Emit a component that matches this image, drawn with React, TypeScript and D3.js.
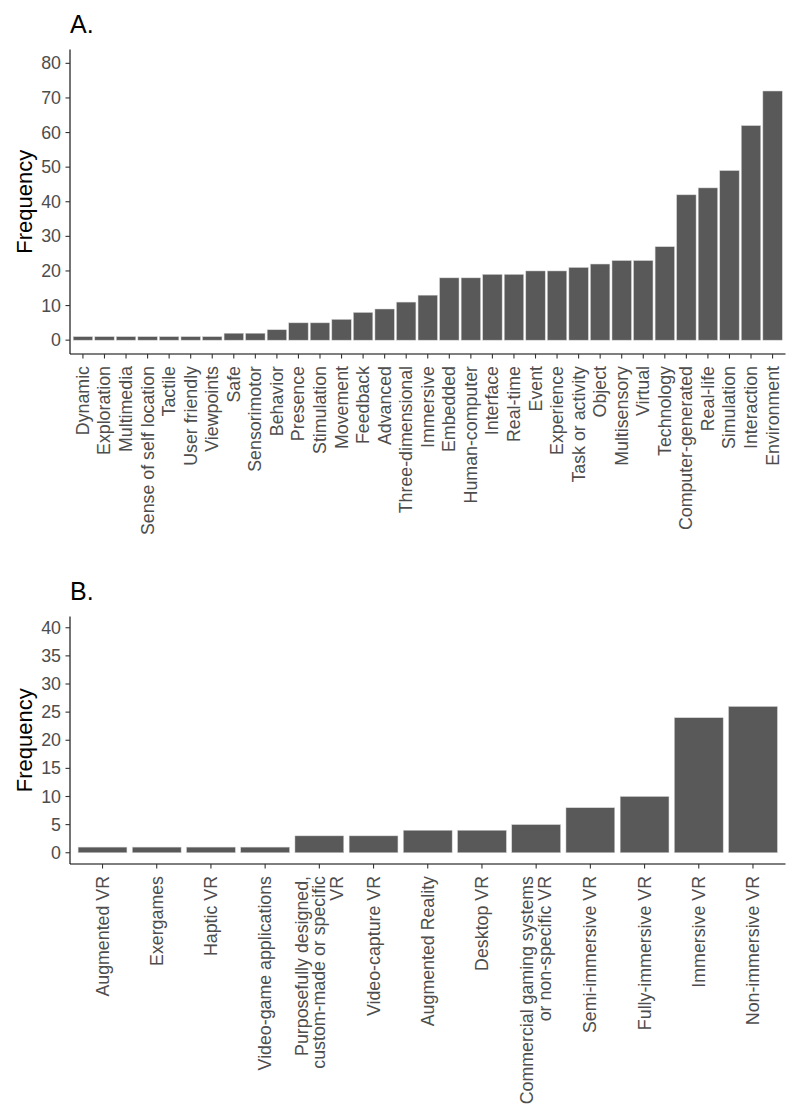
import React from "react";
import * as d3 from "d3";

const catsA = [
  "Dynamic", "Exploration", "Multimedia", "Sense of self location", "Tactile",
  "User friendly", "Viewpoints", "Safe", "Sensorimotor", "Behavior", "Presence",
  "Stimulation", "Movement", "Feedback", "Advanced", "Three-dimensional",
  "Immersive", "Embedded", "Human-computer", "Interface", "Real-time", "Event",
  "Experience", "Task or activity", "Object", "Multisensory", "Virtual",
  "Technology", "Computer-generated", "Real-life", "Simulation", "Interaction",
  "Environment",
];
const valsA = [1, 1, 1, 1, 1, 1, 1, 2, 2, 3, 5, 5, 6, 8, 9, 11, 13, 18, 18, 19, 19, 20, 20, 21, 22, 23, 23, 27, 42, 44, 49, 62, 72];
const ticksA = [0, 10, 20, 30, 40, 50, 60, 70, 80];

const catsB = [
  "Augmented VR", "Exergames", "Haptic VR", "Video-game applications",
  "Purposefully designed,\ncustom-made or specific\nVR", "Video-capture VR",
  "Augmented Reality", "Desktop VR",
  "Commercial gaming systems\nor non-specific VR", "Semi-immersive VR",
  "Fully-immersive VR", "Immersive VR", "Non-immersive VR",
];
const valsB = [1, 1, 1, 1, 3, 3, 4, 4, 5, 8, 10, 24, 26];
const ticksB = [0, 5, 10, 15, 20, 25, 30, 35, 40];

const FONT = "'Liberation Sans', Arial, sans-serif";

type PanelProps = {
  title: string;
  cats: string[];
  vals: number[];
  ticks: number[];
  yMax: number;
  top: number;
  bottom: number;
  titleY: number;
};

function Panel({ title, cats, vals, ticks, yMax, top, bottom, titleY }: PanelProps) {
  const left = 70;
  const right = 785.5;
  const pad = yMax * 0.05;
  const y = d3.scaleLinear().domain([-pad, yMax + pad]).range([bottom, top]);
  const n = cats.length;
  const step = (right - left) / (n - 1 + 1.2);
  const x = d3
    .scalePoint<string>()
    .domain(cats)
    .range([left + 0.6 * step, right - 0.6 * step]);
  const bw = step * 0.9;
  const fs = 17.8;
  const lh = 17.5;
  return (
    <g>
      <text x={70} y={titleY} fontSize={25} fontFamily={FONT} fill="#000">
        {title}
      </text>
      {cats.map((c, i) => (
        <rect
          key={c}
          x={(x(c) as number) - bw / 2}
          y={y(vals[i])}
          width={bw}
          height={y(0) - y(vals[i])}
          fill="#595959"
          stroke="#d0d0d0"
          strokeWidth={0.5}
        />
      ))}
      {/* y axis */}
      <line x1={left} x2={left} y1={top} y2={bottom} stroke="#000" strokeWidth={1.1} />
      {ticks.map((t) => (
        <g key={t}>
          <line x1={left - 4.5} x2={left} y1={y(t)} y2={y(t)} stroke="#333" strokeWidth={1.1} />
          <text
            x={left - 9}
            y={y(t)}
            textAnchor="end"
            dominantBaseline="central"
            fontSize={fs}
            fontFamily={FONT}
            fill="#4d4d4d"
          >
            {t}
          </text>
        </g>
      ))}
      {/* x axis */}
      <line x1={left} x2={right} y1={bottom} y2={bottom} stroke="#000" strokeWidth={1.1} />
      {cats.map((c) => {
        const cx = x(c) as number;
        const lines = c.split("\n");
        const ly = bottom + 12;
        return (
          <g key={c}>
            <line x1={cx} x2={cx} y1={bottom} y2={bottom + 4.5} stroke="#333" strokeWidth={1.1} />
            <text
              transform={`translate(${cx},${ly}) rotate(-90)`}
              textAnchor="end"
              fontSize={fs}
              fontFamily={FONT}
              fill="#4d4d4d"
            >
              {lines.map((l, k) => (
                <tspan
                  key={k}
                  x={0}
                  y={(k - (lines.length - 1) / 2) * lh}
                  dominantBaseline="central"
                >
                  {l}
                </tspan>
              ))}
            </text>
          </g>
        );
      })}
      <text
        transform={`translate(24,${(top + bottom) / 2}) rotate(-90)`}
        textAnchor="middle"
        dominantBaseline="central"
        fontSize={22}
        fontFamily={FONT}
        fill="#000"
      >
        Frequency
      </text>
    </g>
  );
}

export default function App() {
  return (
    <svg
      width={800}
      height={1118}
      style={{ position: "absolute", left: 0, top: 0, background: "#fff" }}
    >
      <rect x={0} y={0} width={800} height={1118} fill="#fff" />
      <Panel title="A." cats={catsA} vals={valsA} ticks={ticksA} yMax={80} top={49.5} bottom={354} titleY={33} />
      <Panel title="B." cats={catsB} vals={valsB} ticks={ticksB} yMax={40} top={616.5} bottom={864} titleY={600} />
    </svg>
  );
}
